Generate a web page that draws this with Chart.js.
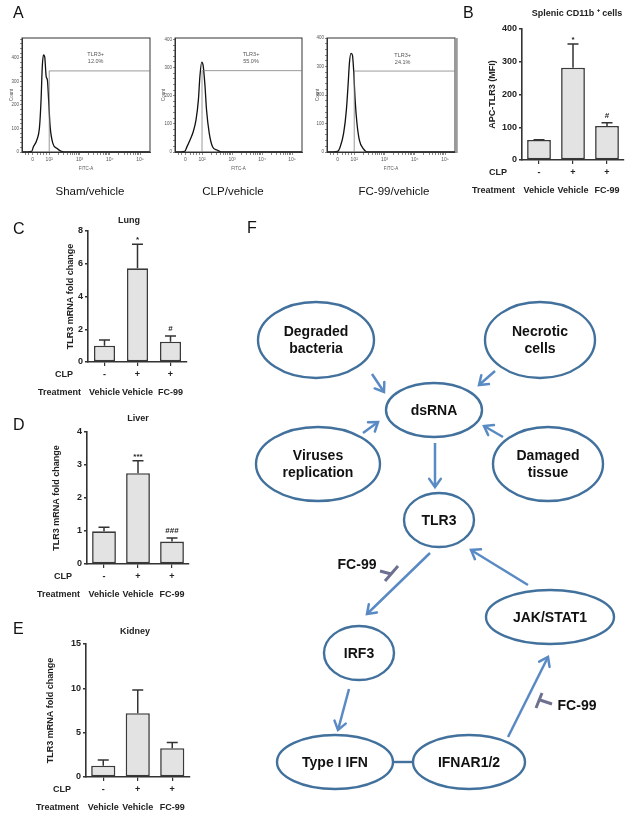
<!DOCTYPE html>
<html><head><meta charset="utf-8">
<script src="https://cdn.jsdelivr.net/npm/chart.js@4.4.0/dist/chart.umd.min.js"></script>
<style>
html,body{margin:0;padding:0;background:#fff;}
body{width:630px;height:815px;position:relative;overflow:hidden;font-family:"Liberation Sans",Arial,sans-serif;}
canvas{position:absolute;left:0;top:0;}
.lbl{position:absolute;line-height:1;white-space:nowrap;color:#111;}
</style></head><body>
<canvas id="h1" width="630" height="815"></canvas>
<canvas id="h2" width="630" height="815"></canvas>
<canvas id="h3" width="630" height="815"></canvas>
<canvas id="cB" width="630" height="815"></canvas>
<canvas id="cC" width="630" height="815"></canvas>
<canvas id="cD" width="630" height="815"></canvas>
<canvas id="cE" width="630" height="815"></canvas>
<canvas id="cF" width="630" height="815"></canvas>

<div class="lbl" style="left:13px;top:5px;font-size:16px">A</div>
<div class="lbl" style="left:463px;top:5px;font-size:16px">B</div>
<div class="lbl" style="left:13px;top:221px;font-size:16px">C</div>
<div class="lbl" style="left:13px;top:417px;font-size:16px">D</div>
<div class="lbl" style="left:13px;top:621px;font-size:16px">E</div>
<div class="lbl" style="left:247px;top:220px;font-size:16px">F</div>

<div class="lbl" id="capA1" style="left:90px;top:186px;font-size:11.5px;transform:translateX(-50%)"></div>
<div class="lbl" id="capA2" style="left:233px;top:186px;font-size:11.5px;transform:translateX(-50%)"></div>
<div class="lbl" id="capA3" style="left:394px;top:186px;font-size:11.5px;transform:translateX(-50%)"></div>

<script>
// ---------------- DATA ----------------
// Panel A: flow cytometry histograms (x in log decades of FITC-A, y = count)
const histCaptions = ["Sham/vehicle", "CLP/vehicle", "FC-99/vehicle"];
const histGatePct = ["12.0%", "55.0%", "24.1%"];
const histGateLevel = [345, 289, 284];
const histYMax = [485, 405, 400];
const hist1X = [1.1, 1.42, 1.48, 1.59, 1.68, 1.73, 1.77, 1.81, 1.85, 1.9, 1.94, 1.98, 2.03, 2.12, 2.25, 2.4, 2.6, 5.33];
const hist1Y = [0, 3, 23, 51, 108, 221, 363, 413, 405, 320, 306, 221, 108, 37, 16, 3, 0, 0];
const hist2X = [1.1, 1.42, 1.5, 1.6, 1.71, 1.8, 1.88, 1.93, 1.99, 2.04, 2.1, 2.15, 2.24, 2.35, 2.5, 2.65, 5.33];
const hist2Y = [0, 2, 19, 43, 73, 114, 186, 269, 319, 305, 233, 150, 67, 19, 7, 0, 0];
const hist3X = [1.1, 1.45, 1.54, 1.65, 1.74, 1.8, 1.84, 1.89, 1.94, 1.98, 2.03, 2.09, 2.17, 2.29, 2.45, 5.33];
const hist3Y = [0, 2, 19, 66, 147, 241, 311, 346, 340, 288, 182, 101, 42, 13, 0, 0];
const xTickValues = [1.45, 2, 3, 4, 5];
const xTickLabels = ["0", "10²", "10³", "10⁴", "10⁵"];
const gateDecade = 2;

// Panels B-E: bar charts
const clpRow = ["-", "+", "+"];
const treatmentRow = ["Vehicle", "Vehicle", "FC-99"];
const splenicMean = [61, 282, 104];
const splenicErrTop = [62, 354, 114];
const splenicMarks = ["", "*", "#"];
const lungMean = [1.0, 5.72, 1.24];
const lungErrTop = [1.34, 7.19, 1.59];
const lungMarks = ["", "*", "#"];
const liverMean = [0.99, 2.75, 0.68];
const liverErrTop = [1.11, 3.13, 0.79];
const liverMarks = ["", "***", "###"];
const kidneyMean = [1.27, 7.2, 3.24];
const kidneyErrTop = [1.92, 9.8, 3.9];
const kidneyMarks = ["", "", ""];

// Panel F: pathway diagram (diagram units)
const nodeLabels = [["Degraded","bacteria"],["Necrotic","cells"],["dsRNA"],["Viruses","replication"],["Damaged","tissue"],["TLR3"],["IRF3"],["JAK/STAT1"],["Type I IFN"],["IFNAR1/2"]];
const nodeX = [76, 300, 194, 78, 308, 199, 119, 310, 95, 229];
const nodeY = [50, 50, 120, 174, 174, 230, 363, 327, 472, 472];
const nodeRX = [58, 55, 48, 62, 55, 35, 35, 64, 58, 56];
const nodeRY = [38, 38, 27, 37, 37, 27, 27, 27, 27, 27];
const arrowPaths = [
  [[132,84],[144,102]],
  [[255,81],[239,95]],
  [[123,143],[138,132]],
  [[263,147],[244,136]],
  [[195,153],[195,197]],
  [[190,263],[127,324]],
  [[288,295],[231,260]],
  [[109,399],[98,440]],
  [[268,447],[308,367]]
];
const linkPath = [[153,472],[173,472]];
const inhibitorLabels = ["FC-99", "FC-99"];
const inhibitorText = [[117,275],[337,416]];
const inhibitorStem = [[[140,281],[151,284]], [[312,414],[300,410]]];
const inhibitorBar = [[[158,276],[145,291]], [[296,418],[302,403]]];

// ---------------- RENDERING ----------------
const FONT = '"Liberation Sans", Arial, sans-serif';
const W = 630, H = 815;
function pad(a, yW, xH){ return {left: a.left - yW, top: a.top, right: W - a.right, bottom: H - a.bottom - xH}; }

histCaptions.forEach((c,i)=>{ document.getElementById('capA'+(i+1)).textContent = c; });

const minorX = [1.2,1.3,1.6,1.7,1.8,1.9];
[2,3,4].forEach(d=>{ for(let k=2;k<=9;k++) minorX.push(d+Math.log10(k)); });
const allXTicks = xTickValues.concat(minorX).sort((a,b)=>a-b);

function histDecor(o){
  return {
    id:'histDecor',
    afterDraw(chart){
      const {ctx, chartArea:a, scales:{x,y}} = chart;
      ctx.save();
      ctx.strokeStyle='#333'; ctx.lineWidth=1;
      ctx.strokeRect(a.left, a.top, a.right-a.left, a.bottom-a.top);
      if (o.thickRight){ ctx.strokeStyle='#9a9a9a'; ctx.lineWidth=2.5; ctx.beginPath(); ctx.moveTo(a.right+1.5,a.top); ctx.lineTo(a.right+1.5,a.bottom+1); ctx.stroke(); }
      const gx = x.getPixelForValue(gateDecade), gy = y.getPixelForValue(o.gate);
      ctx.strokeStyle='#808080'; ctx.lineWidth=0.8;
      ctx.beginPath(); ctx.moveTo(gx, a.bottom); ctx.lineTo(gx, gy); ctx.lineTo(a.right, gy); ctx.stroke();
      ctx.fillStyle='#555'; ctx.font='5.5px '+FONT; ctx.textAlign='center'; ctx.textBaseline='middle';
      const tx = (gx + a.right)/2 + o.tdx;
      ctx.fillText('TLR3+', tx, gy-16); ctx.fillText(o.pct, tx, gy-9);
      ctx.restore();
    }
  };
}

function makeHist(id, xs, ys, o){
  const pts = xs.map((x,i)=>({x:x, y:ys[i]}));
  new Chart(document.getElementById(id), {
    type:'line',
    data:{datasets:[{data:pts, borderColor:'#111', borderWidth:1.3, pointRadius:0, cubicInterpolationMode:'monotone', fill:false}]},
    options:{
      responsive:false, animation:false, devicePixelRatio:1,
      layout:{padding: pad(o.area, o.yW, 19)},
      plugins:{legend:{display:false}, tooltip:{enabled:false}},
      scales:{
        x:{type:'linear', min:1.1, max:5.33,
          afterBuildTicks: s => { s.ticks = allXTicks.map(v=>({value:v})); },
          afterFit: s => { s.height = 19; },
          ticks:{autoSkip:false, maxRotation:0, font:{size:5, family:FONT}, color:'#555', padding:2,
            callback:(v)=>{ const i = xTickValues.indexOf(v); return i>=0 ? xTickLabels[i] : ''; }},
          grid:{drawOnChartArea:false, tickLength:3, color:'#555', lineWidth:0.7},
          border:{color:'#333', width:1},
          title:{display:true, text:'FITC-A', font:{size:4.5, family:FONT}, color:'#555', padding:0}},
        y:{type:'linear', min:0, max:o.yMax,
          afterBuildTicks: s => { const t=[]; for(let v=0; v<=o.yMax; v+=20) t.push({value:v}); s.ticks=t; },
          afterFit: s => { s.width = o.yW; },
          ticks:{autoSkip:false, font:{size:4.5, family:FONT}, color:'#555', padding:1,
            callback:(v)=> (v % 100 === 0 ? String(v) : '')},
          grid:{drawOnChartArea:false, tickLength:2, color:'#555', lineWidth:0.7},
          border:{color:'#333', width:1},
          title:{display:true, text:'Count', font:{size:4.5, family:FONT}, color:'#555', padding:0}}
      }
    },
    plugins:[histDecor(o)]
  });
}

makeHist('h1', hist1X, hist1Y, {area:{left:22,right:150,top:38,bottom:152}, yW:12.7, yMax:histYMax[0], gate:histGateLevel[0], pct:histGatePct[0], tdx:-4});
makeHist('h2', hist2X, hist2Y, {area:{left:175,right:302,top:38,bottom:152}, yW:13.5, yMax:histYMax[1], gate:histGateLevel[1], pct:histGatePct[1], tdx:-1});
makeHist('h3', hist3X, hist3Y, {area:{left:327,right:455,top:38,bottom:152}, yW:11.7, yMax:histYMax[2], gate:histGateLevel[2], pct:histGatePct[2], tdx:-2, thickRight:true});

function barDecor(o){
  return {
    id:'barDecor',
    afterDatasetsDraw(chart){
      const {ctx, scales:{x,y}} = chart;
      ctx.save();
      ctx.strokeStyle='#333'; ctx.lineWidth=1.5;
      o.mean.forEach((m,i)=>{
        const px = x.getPixelForValue(i), y0 = y.getPixelForValue(m), y1 = y.getPixelForValue(o.err[i]);
        ctx.beginPath(); ctx.moveTo(px, y0); ctx.lineTo(px, y1); ctx.moveTo(px-5.5, y1); ctx.lineTo(px+5.5, y1); ctx.stroke();
        if (o.marks[i]) {
          ctx.fillStyle='#222'; ctx.font='bold 8px '+FONT; ctx.textAlign='center'; ctx.textBaseline='alphabetic';
          ctx.fillText(o.marks[i], px, y1 - (o.marks[i][0]==='*' ? 2 : 5));
        }
      });
      ctx.restore();
    },
    afterDraw(chart){
      const {ctx, chartArea:a, scales:{x}} = chart;
      ctx.save();
      ctx.fillStyle='#222'; ctx.textBaseline='middle';
      ctx.font='bold 9px '+FONT; ctx.textAlign='center';
      ctx.fillText(o.title, o.titleX, o.titleY);
      ctx.font='bold 9px '+FONT;
      clpRow.forEach((t,i)=>{ ctx.fillText(t, x.getPixelForValue(i), a.bottom + 13); });
      treatmentRow.forEach((t,i)=>{ ctx.fillText(t, x.getPixelForValue(i), a.bottom + 31); });
      ctx.textAlign='right';
      ctx.fillText('CLP', a.left - 15, a.bottom + 13);
      ctx.fillText('Treatment', a.left - 7, a.bottom + 31);
      ctx.restore();
    }
  };
}

function makeBar(id, o){
  new Chart(document.getElementById(id), {
    type:'bar',
    data:{labels: treatmentRow, datasets:[{data:o.mean, backgroundColor:'#e3e3e3', borderColor:'#3a3a3a', borderWidth:1.6, borderSkipped:false, barPercentage:1, categoryPercentage:o.cp}]},
    options:{
      responsive:false, animation:false, devicePixelRatio:1,
      layout:{padding: pad(o.area, o.yW, 10)},
      plugins:{legend:{display:false}, tooltip:{enabled:false}},
      scales:{
        x:{type:'category', offset:true, afterFit: s => { s.height = 10; },
          ticks:{display:false},
          grid:{offset:false, drawOnChartArea:false, tickLength:4, color:'#333', lineWidth:1.2},
          border:{color:'#333', width:1.6}},
        y:{type:'linear', min:0, max:o.yMax, afterFit: s => { s.width = o.yW; },
          ticks:{stepSize:o.step, font:{size:9, weight:'bold', family:FONT}, color:'#222', padding:2},
          grid:{drawOnChartArea:false, tickLength:3, color:'#333', lineWidth:1.5},
          border:{color:'#333', width:1.6},
          title:{display:true, text:o.yTitle, font:{size:9, weight:'bold', family:FONT}, color:'#222', padding:0}}
      }
    },
    plugins:[barDecor(o)]
  });
}

makeBar('cB', {area:{left:522,right:624,top:29,bottom:160}, yW:34.4, yMax:400, step:100, cp:0.7,
  mean:splenicMean, err:splenicErrTop, marks:splenicMarks, yTitle:'APC-TLR3 (MFI)',
  title:'Splenic CD11b \u207A cells', titleX:577, titleY:14});
makeBar('cC', {area:{left:88,right:187,top:231,bottom:362}, yW:22.4, yMax:8, step:2, cp:0.64,
  mean:lungMean, err:lungErrTop, marks:lungMarks, yTitle:'TLR3 mRNA fold change',
  title:'Lung', titleX:129, titleY:221});
makeBar('cD', {area:{left:87,right:189,top:432,bottom:564}, yW:35.4, yMax:4, step:1, cp:0.7,
  mean:liverMean, err:liverErrTop, marks:liverMarks, yTitle:'TLR3 mRNA fold change',
  title:'Liver', titleX:138, titleY:419});
makeBar('cE', {area:{left:86,right:189.5,top:644,bottom:777}, yW:40.4, yMax:15, step:5, cp:0.7,
  mean:kidneyMean, err:kidneyErrTop, marks:kidneyMarks, yTitle:'TLR3 mRNA fold change',
  title:'Kidney', titleX:135, titleY:632});

// Panel F diagram
const ELLIPSE = '#41719c', ARROW = '#5a8ac4', INHIB = '#6e7090';
const diagramPlugin = {
  id:'diagram',
  beforeDatasetsDraw(chart){
    const {ctx, scales:{x,y}} = chart;
    const meta = chart.getDatasetMeta(0);
    ctx.save();
    ctx.strokeStyle = ELLIPSE; ctx.lineWidth = 2.4;
    meta.data.forEach((pt,i)=>{
      const rx = x.getPixelForValue(nodeX[i]+nodeRX[i]) - pt.x;
      const ry = y.getPixelForValue(nodeY[i]+nodeRY[i]) - pt.y;
      ctx.beginPath(); ctx.ellipse(pt.x, pt.y, Math.abs(rx), Math.abs(ry), 0, 0, Math.PI*2); ctx.stroke();
    });
    ctx.restore();
  },
  afterDatasetsDraw(chart){
    const {ctx, scales:{x,y}} = chart;
    ctx.save();
    // arrowheads
    ctx.strokeStyle = ARROW; ctx.lineWidth = 2.5; ctx.lineCap='round';
    arrowPaths.forEach(p=>{
      const x0=x.getPixelForValue(p[0][0]), y0=y.getPixelForValue(p[0][1]);
      const x1=x.getPixelForValue(p[1][0]), y1=y.getPixelForValue(p[1][1]);
      const ang = Math.atan2(y1-y0, x1-x0), L = 10, sp = 0.62;
      ctx.beginPath();
      ctx.moveTo(x1 - L*Math.cos(ang-sp), y1 - L*Math.sin(ang-sp));
      ctx.lineTo(x1, y1);
      ctx.lineTo(x1 - L*Math.cos(ang+sp), y1 - L*Math.sin(ang+sp));
      ctx.stroke();
    });
    // inhibitors
    ctx.strokeStyle = INHIB; ctx.lineWidth = 3; ctx.lineCap='butt';
    inhibitorStem.forEach((s,i)=>{
      const b = inhibitorBar[i];
      ctx.beginPath();
      ctx.moveTo(x.getPixelForValue(s[0][0]), y.getPixelForValue(s[0][1]));
      ctx.lineTo(x.getPixelForValue(s[1][0]), y.getPixelForValue(s[1][1]));
      ctx.moveTo(x.getPixelForValue(b[0][0]), y.getPixelForValue(b[0][1]));
      ctx.lineTo(x.getPixelForValue(b[1][0]), y.getPixelForValue(b[1][1]));
      ctx.stroke();
    });
    // texts
    ctx.fillStyle = '#111'; ctx.textAlign='center'; ctx.textBaseline='middle';
    ctx.font = 'bold 14px ' + FONT;
    const meta = chart.getDatasetMeta(0);
    meta.data.forEach((pt,i)=>{
      const lines = nodeLabels[i];
      const lh = 17;
      lines.forEach((t,j)=>{ ctx.fillText(t, pt.x, pt.y + (j - (lines.length-1)/2)*lh + 1); });
    });
    inhibitorLabels.forEach((t,i)=>{
      ctx.fillText(t, x.getPixelForValue(inhibitorText[i][0]), y.getPixelForValue(inhibitorText[i][1]));
    });
    ctx.restore();
  }
};

const fDatasets = [{type:'scatter', data: nodeX.map((v,i)=>({x:v, y:nodeY[i]})), pointRadius:0, showLine:false}];
arrowPaths.forEach(p=>{
  fDatasets.push({type:'line', data:p.map(q=>({x:q[0], y:q[1]})), borderColor:ARROW, borderWidth:2.5, pointRadius:0, fill:false, tension:0});
});
fDatasets.push({type:'line', data:linkPath.map(q=>({x:q[0], y:q[1]})), borderColor:ELLIPSE, borderWidth:2.4, pointRadius:0, fill:false});

new Chart(document.getElementById('cF'), {
  type:'scatter',
  data:{datasets:fDatasets},
  options:{
    responsive:false, animation:false, devicePixelRatio:1,
    layout:{padding:{left:240, top:290, right:0, bottom:5}},
    plugins:{legend:{display:false}, tooltip:{enabled:false}},
    scales:{
      x:{type:'linear', min:0, max:390, display:false},
      y:{type:'linear', min:0, max:520, reverse:true, display:false}
    }
  },
  plugins:[diagramPlugin]
});
</script>
</body></html>
